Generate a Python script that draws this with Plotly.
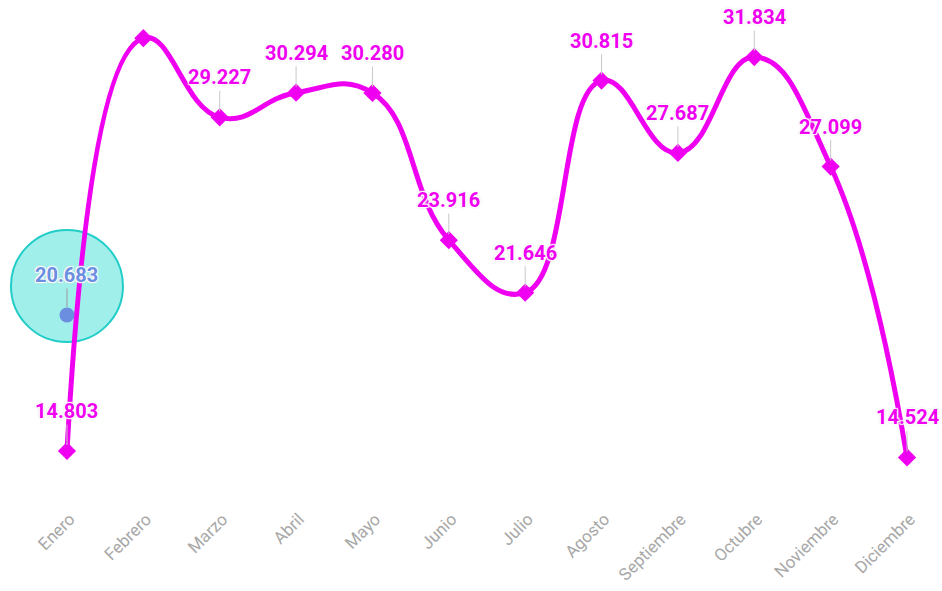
import plotly.graph_objects as go

months = ["Enero", "Febrero", "Marzo", "Abril", "Mayo", "Junio", "Julio",
          "Agosto", "Septiembre", "Octubre", "Noviembre", "Diciembre"]
values = [14.803, 32.65, 29.227, 30.294, 30.280, 23.916, 21.646,
          30.815, 27.687, 31.834, 27.099, 14.524]
# Febrero label is not shown in the reference (clipped at the top)
show_label = [True, False, True, True, True, True, True,
              True, True, True, True, True]

hover_month = "Enero"
hover_value = 20.683

LINE_COLOR = "#f000f0"
POINT_COLOR = "#6b8ee0"
SHADOW = ("1px 1px 1px #fff, -1px -1px 1px #fff, 1px -1px 1px #fff, "
          "-1px 1px 1px #fff, 0px 0px 3px #bbb")

fig = go.Figure()

fig.add_trace(go.Scatter(
    x=months, y=values, mode="lines+markers",
    line=dict(color=LINE_COLOR, width=5, shape="spline", smoothing=1.3),
    marker=dict(symbol="diamond", size=14, color=LINE_COLOR),
    hoverinfo="skip", showlegend=False,
))

fig.add_trace(go.Scatter(
    x=[hover_month], y=[hover_value], mode="markers",
    marker=dict(symbol="circle", size=15, color=POINT_COLOR),
    hoverinfo="skip", showlegend=False,
))

annotations = []
for m, v, s in zip(months, values, show_label):
    if not s:
        continue
    annotations.append(dict(
        x=m, y=v, xref="x", yref="y", text=f"{v:.3f}",
        showarrow=True, arrowhead=0, arrowwidth=1, arrowcolor="#c8c8c8",
        ax=0, ay=-40, standoff=6,
        font=dict(family="Roboto", size=20, color=LINE_COLOR, weight=700, shadow=SHADOW),
    ))
annotations.append(dict(
    x=hover_month, y=hover_value, xref="x", yref="y", text=f"{hover_value:.3f}",
    showarrow=True, arrowhead=0, arrowwidth=1, arrowcolor="#9a9a9a",
    ax=0, ay=-40, standoff=8,
    font=dict(family="Roboto", size=20, color=POINT_COLOR, weight=700, shadow=SHADOW),
))

fig.update_layout(
    width=942, height=591,
    margin=dict(l=0, r=0, t=0, b=91),
    paper_bgcolor="white", plot_bgcolor="white",
    annotations=annotations,
    shapes=[dict(
        type="circle", layer="below",
        xref="x", yref="y", xsizemode="pixel", ysizemode="pixel",
        xanchor=hover_month, yanchor=hover_value,
        x0=-56, x1=56, y0=-27, y1=85,
        fillcolor="#a0efeb", line=dict(color="#22cdc8", width=2),
    )],
    xaxis=dict(
        type="category", range=[-0.877, 11.458], automargin=False,
        showgrid=False, zeroline=False, showline=False,
        ticks="", tickangle=-45, ticklabelstandoff=5, ticklabelshift=3,
        tickfont=dict(family="Roboto", size=17, color="#a8a8a8"),
    ),
    yaxis=dict(
        range=[12.685, 34.30], visible=False,
        showgrid=False, zeroline=False,
    ),
)

fig.write_html("out.html", config={"displayModeBar": False},
               post_script="document.body.style.margin='0';")
